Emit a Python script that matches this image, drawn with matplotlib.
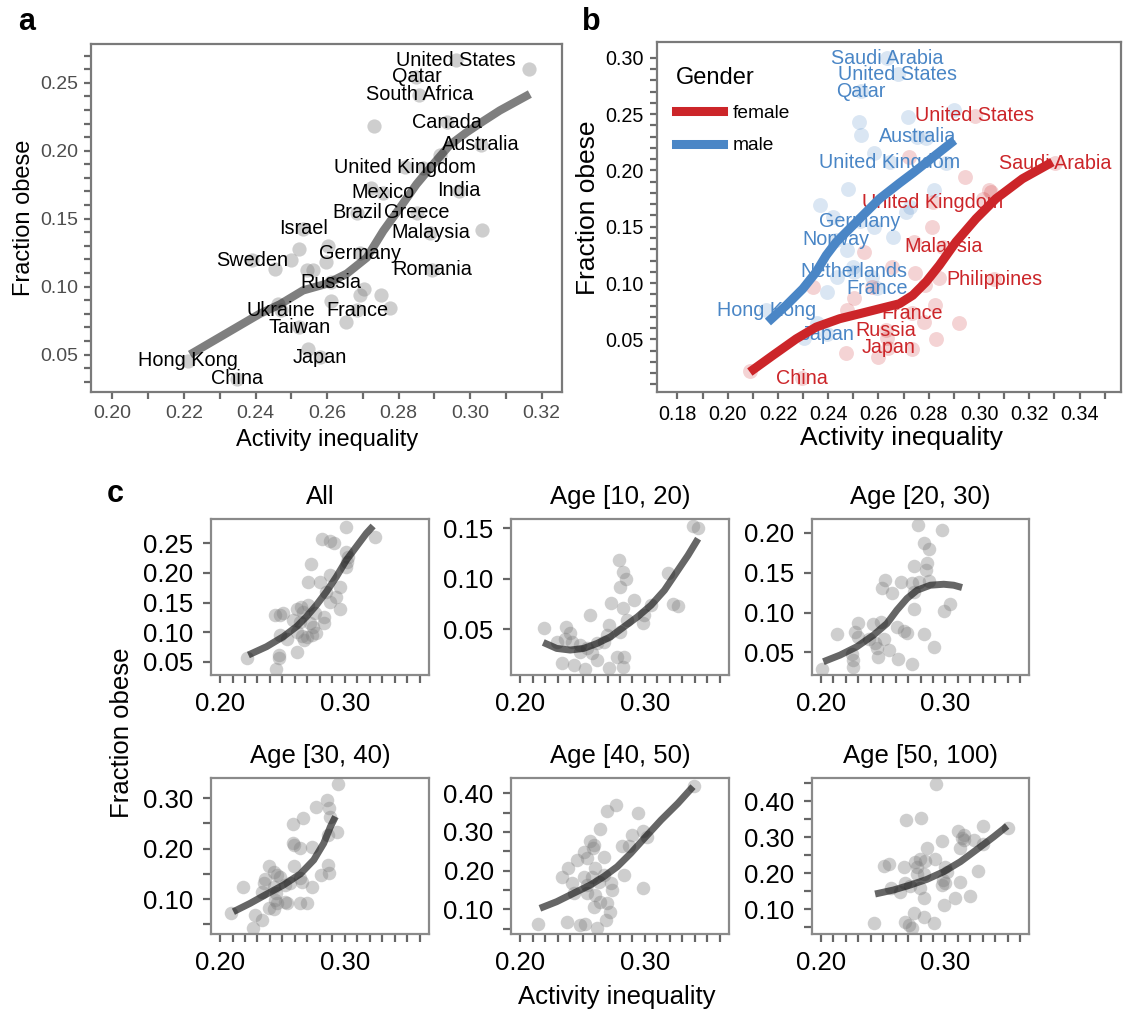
import matplotlib
matplotlib.use("Agg")
import matplotlib.pyplot as plt
from matplotlib.ticker import MultipleLocator, FixedLocator, FormatStrFormatter
from matplotlib.lines import Line2D

plt.rcParams['font.family'] = ['Liberation Sans', 'DejaVu Sans']

W, H = 1124, 1011

# ---------------- panel a: countries ----------------
a_names = ["United States", "Qatar", "South Africa", "Canada", "Australia",
           "United Kingdom", "Mexico", "India", "Brazil", "Greece", "Israel",
           "Malaysia", "Germany", "Sweden", "Romania", "Russia", "France",
           "Ukraine", "Taiwan", "Japan", "Hong Kong", "China"]
a_x = [0.296, 0.285, 0.2858, 0.2936, 0.303, 0.2819, 0.2756, 0.2968, 0.2684,
       0.2851, 0.2534, 0.2889, 0.2692, 0.239, 0.2893, 0.2612, 0.2684, 0.2471,
       0.2522, 0.2581, 0.221, 0.2349]
a_y = [0.2667, 0.2544, 0.241, 0.2208, 0.2043, 0.188, 0.1689, 0.1704, 0.1542,
       0.1542, 0.1427, 0.1397, 0.1247, 0.1193, 0.1124, 0.1033, 0.0824, 0.0824,
       0.0701, 0.048, 0.0456, 0.0321]
# countries without a label
a_other_x = [0.3164, 0.2731, 0.2915, 0.2867, 0.2724, 0.3033, 0.2521, 0.2604,
             0.2499, 0.2454, 0.2544, 0.2561, 0.2596, 0.2704, 0.2692, 0.2752,
             0.2777, 0.2612, 0.2462, 0.2652, 0.2547]
a_other_y = [0.2601, 0.2183, 0.1967, 0.1876, 0.1722, 0.1414, 0.1279, 0.1296,
             0.1193, 0.1132, 0.1124, 0.1124, 0.118, 0.0984, 0.0935, 0.0935,
             0.0844, 0.0893, 0.0869, 0.0743, 0.0542]
# smoothed trend
a_fit_x = [0.2217, 0.2412, 0.2468, 0.2533, 0.2599, 0.2655, 0.2711, 0.2757,
           0.2804, 0.285, 0.2897, 0.2943, 0.299, 0.3037, 0.3083, 0.3167]
a_fit_y = [0.05, 0.08, 0.0869, 0.0972, 0.1021, 0.1095, 0.1213, 0.1409,
           0.1581, 0.1753, 0.1901, 0.2042, 0.2135, 0.2218, 0.2296, 0.2417]

# ---------------- panel b: by gender ----------------
male_names = ["Saudi Arabia", "United States", "Qatar", "Australia",
              "United Kingdom", "Germany", "Norway", "Netherlands", "France",
              "Hong Kong", "Japan"]
male_x = [0.2634, 0.2677, 0.2531, 0.2754, 0.2645, 0.2526, 0.2432, 0.2501,
          0.2593, 0.2154, 0.2396]
male_y = [0.2994, 0.2855, 0.2704, 0.2299, 0.2071, 0.155, 0.1382, 0.110,
          0.0953, 0.076, 0.0544]
male_other_x = [0.290, 0.2716, 0.2521, 0.253, 0.2583, 0.2869, 0.2479, 0.2819,
                0.2369, 0.2726, 0.2711, 0.2419, 0.2583, 0.2659, 0.2476, 0.2497,
                0.2433, 0.2576, 0.2397, 0.2354, 0.2304, 0.279]
male_other_y = [0.2536, 0.2476, 0.2426, 0.2314, 0.2151, 0.2062, 0.1834, 0.1825,
                0.1692, 0.1678, 0.1633, 0.1589, 0.150, 0.1411, 0.1293, 0.1145,
                0.1056, 0.1056, 0.0923, 0.0642, 0.0509, 0.229]
male_fit_x = [0.216, 0.2233, 0.2299, 0.2352, 0.2392, 0.2432, 0.2485, 0.2538,
              0.2604, 0.2683, 0.2736, 0.2902]
male_fit_y = [0.0654, 0.0802, 0.0949, 0.1098, 0.1246, 0.1364, 0.1482, 0.1601,
              0.1748, 0.1886, 0.1975, 0.2267]

female_names = ["United States", "Saudi Arabia", "United Kingdom", "Malaysia",
                "Philippines", "France", "Russia", "Japan", "China"]
female_x = [0.2984, 0.3304, 0.2815, 0.2858, 0.3061, 0.2733, 0.2629, 0.2639,
            0.2295]
female_y = [0.2485, 0.2062, 0.1716, 0.1322, 0.1033, 0.0731, 0.0583, 0.0426,
            0.0154]
female_other_x = [0.272, 0.2945, 0.3041, 0.3014, 0.3047, 0.2813, 0.274, 0.2544,
                  0.2654, 0.2747, 0.284, 0.2787, 0.234, 0.2576, 0.2504, 0.2476,
                  0.2826, 0.2783, 0.2919, 0.2633, 0.2829, 0.2471, 0.2597,
                  0.2733, 0.209]
female_other_y = [0.2118, 0.194, 0.1823, 0.1748, 0.1811, 0.1497, 0.1367, 0.1278,
                  0.1145, 0.1086, 0.1041, 0.0982, 0.0967, 0.0967, 0.0864, 0.076,
                  0.0805, 0.0657, 0.0648, 0.0509, 0.05, 0.0376, 0.0346, 0.0411,
                  0.0219]
female_fit_x = [0.2088, 0.218, 0.2273, 0.2352, 0.2445, 0.2524, 0.2604, 0.2683,
                0.2736, 0.2789, 0.2842, 0.2908, 0.2988, 0.3067, 0.3173, 0.3292]
female_fit_y = [0.021, 0.0358, 0.0505, 0.0609, 0.0683, 0.0727, 0.0772, 0.0816,
                0.0891, 0.1009, 0.1157, 0.1364, 0.1571, 0.1748, 0.1926, 0.2074]

# ---------------- panel c: by age group ----------------
c_titles = ["All", "Age [10, 20)", "Age [20, 30)",
            "Age [30, 40)", "Age [40, 50)", "Age [50, 100)"]

all_x = [0.3013, 0.2821, 0.288, 0.2912, 0.324, 0.3013, 0.3027, 0.3019, 0.3008,
         0.2728, 0.288, 0.2707, 0.28, 0.296, 0.2848, 0.2933, 0.288, 0.2965,
         0.244, 0.2501, 0.248, 0.2613, 0.2648, 0.2707, 0.2667, 0.276, 0.2835,
         0.2581, 0.264, 0.272, 0.2832, 0.2747, 0.248, 0.2533, 0.2613, 0.2653,
         0.2693, 0.2736, 0.2768, 0.2672, 0.2213, 0.2475, 0.2475, 0.2613, 0.2445]
all_y = [0.2782, 0.2568, 0.2545, 0.25, 0.2613, 0.2359, 0.2275, 0.219, 0.2094,
         0.2145, 0.1965, 0.1852, 0.1852, 0.1768, 0.1683, 0.1599, 0.1514, 0.1385,
         0.1289, 0.1328, 0.1289, 0.139, 0.1418, 0.1458, 0.1345, 0.1328, 0.1261,
         0.1204, 0.1176, 0.1148, 0.1148, 0.1092, 0.0951, 0.0877, 0.1007, 0.0934,
         0.0923, 0.0951, 0.0979, 0.0866, 0.0556, 0.0613, 0.0556, 0.0669, 0.037]
all_fit_x = [0.2227, 0.2373, 0.2507, 0.2613, 0.2693, 0.2773, 0.2853, 0.2933,
             0.3013, 0.3093, 0.3173, 0.3227]
all_fit_y = [0.0613, 0.0754, 0.0923, 0.1092, 0.1261, 0.1458, 0.1683, 0.1937,
             0.2218, 0.2444, 0.2669, 0.2793]

age10_x = [0.3386, 0.3427, 0.2792, 0.2827, 0.2846, 0.28, 0.3189, 0.3229, 0.3265,
           0.2914, 0.273, 0.2827, 0.3049, 0.2995, 0.2981, 0.2562, 0.2711, 0.28,
           0.2859, 0.2192, 0.2368, 0.24, 0.2414, 0.2359, 0.2481, 0.2535, 0.2576,
           0.2616, 0.2697, 0.267, 0.2332, 0.2427, 0.2522, 0.2616, 0.2711, 0.2778,
           0.2832, 0.2827, 0.2476, 0.2297]
age10_y = [0.1516, 0.15, 0.1182, 0.1067, 0.1002, 0.092, 0.1057, 0.0749, 0.0729,
           0.0795, 0.0762, 0.0707, 0.0739, 0.0641, 0.0559, 0.0641, 0.0543, 0.0477,
           0.0592, 0.051, 0.052, 0.0461, 0.0379, 0.0402, 0.0346, 0.0313, 0.0264,
           0.0362, 0.0444, 0.0379, 0.0166, 0.0149, 0.0107, 0.0198, 0.0116, 0.0231,
           0.0231, 0.0133, 0.028, 0.0379]
age10_fit_x = [0.2184, 0.2292, 0.24, 0.2508, 0.2616, 0.2724, 0.2832, 0.2941,
               0.3049, 0.3157, 0.3265, 0.3346, 0.3427]
age10_fit_y = [0.0372, 0.0313, 0.0297, 0.0313, 0.0362, 0.0428, 0.0526, 0.0625,
               0.0739, 0.0887, 0.1084, 0.1231, 0.1395]

age20_x = [0.278, 0.2973, 0.2831, 0.2866, 0.2849, 0.2844, 0.2745, 0.2516, 0.2642,
           0.2731, 0.2785, 0.2866, 0.2489, 0.257, 0.275, 0.275, 0.2986, 0.3034,
           0.2301, 0.2422, 0.2481, 0.261, 0.2691, 0.2664, 0.2132, 0.2274, 0.2301,
           0.2382, 0.2435, 0.2449, 0.2503, 0.2543, 0.2825, 0.2906, 0.2462, 0.2616,
           0.2731, 0.2247, 0.2261, 0.2261, 0.2005]
age20_y = [0.2096, 0.2033, 0.1875, 0.1804, 0.1624, 0.1532, 0.1582, 0.1415, 0.1386,
           0.1373, 0.1386, 0.1398, 0.1315, 0.1248, 0.126, 0.1039, 0.1022, 0.1114,
           0.0872, 0.0855, 0.0884, 0.0822, 0.0746, 0.0771, 0.073, 0.0759, 0.0696,
           0.0663, 0.0613, 0.055, 0.0663, 0.0529, 0.073, 0.0562, 0.0445, 0.0412,
           0.0349, 0.0479, 0.0404, 0.032, 0.0287]
age20_fit_x = [0.2019, 0.2153, 0.2288, 0.2422, 0.253, 0.261, 0.2691, 0.2772,
               0.2879, 0.2987, 0.3067, 0.3134]
age20_fit_y = [0.0383, 0.0466, 0.0571, 0.0717, 0.0863, 0.1031, 0.1177, 0.1281,
               0.1344, 0.1356, 0.1344, 0.1315]

age30_x = [0.2946, 0.2858, 0.2871, 0.2772, 0.2885, 0.2938, 0.2863, 0.2584, 0.2662,
           0.2584, 0.259, 0.2737, 0.2643, 0.2595, 0.2863, 0.2871, 0.2812, 0.2737,
           0.2389, 0.2429, 0.2456, 0.2483, 0.2362, 0.2349, 0.2643, 0.2657, 0.2563,
           0.2523, 0.2429, 0.2448, 0.218, 0.2335, 0.2442, 0.2456, 0.2523, 0.2536,
           0.2638, 0.2697, 0.2389, 0.2429, 0.2282, 0.2335, 0.2088, 0.2268]
age30_y = [0.3285, 0.2967, 0.2801, 0.2821, 0.2636, 0.2338, 0.2272, 0.249, 0.2603,
           0.2119, 0.2073, 0.2026, 0.2007, 0.1656, 0.1675, 0.151, 0.1477, 0.1232,
           0.1662, 0.1543, 0.1477, 0.1444, 0.1391, 0.1311, 0.1411, 0.1344, 0.1311,
           0.1278, 0.1245, 0.1113, 0.1245, 0.1146, 0.098, 0.0914, 0.0947, 0.0927,
           0.0914, 0.0914, 0.0815, 0.0795, 0.0682, 0.0583, 0.0728, 0.0417]
age30_fit_x = [0.2107, 0.2241, 0.2375, 0.2509, 0.2643, 0.2751, 0.2831, 0.2885,
               0.2925]
age30_fit_y = [0.0748, 0.0914, 0.1099, 0.1278, 0.1497, 0.1775, 0.2106, 0.2437,
               0.2636]

age40_x = [0.3392, 0.2765, 0.2697, 0.2946, 0.2638, 0.2981, 0.29, 0.3016, 0.2873,
           0.2819, 0.2562, 0.2589, 0.2584, 0.2508, 0.2535, 0.267, 0.2454, 0.2386,
           0.2603, 0.2832, 0.2332, 0.2508, 0.2576, 0.267, 0.2414, 0.2427, 0.2535,
           0.263, 0.2724, 0.2738, 0.2981, 0.2535, 0.2603, 0.2643, 0.2697, 0.2589,
           0.2719, 0.2684, 0.2378, 0.2143, 0.2481, 0.2522, 0.2616]
age40_y = [0.419, 0.3698, 0.3543, 0.35, 0.3069, 0.3034, 0.2922, 0.2879, 0.2638,
           0.2638, 0.2776, 0.2664, 0.2578, 0.2491, 0.2319, 0.2362, 0.2276, 0.206,
           0.206, 0.1888, 0.1845, 0.1845, 0.1845, 0.1888, 0.1672, 0.1414, 0.1629,
           0.1716, 0.1672, 0.15, 0.1543, 0.1414, 0.1371, 0.1198, 0.1155, 0.1069,
           0.094, 0.0724, 0.0681, 0.0621, 0.0595, 0.0621, 0.0509]
age40_fit_x = [0.2157, 0.2292, 0.2427, 0.2562, 0.267, 0.2778, 0.2886, 0.2995,
               0.313, 0.3265, 0.3386]
age40_fit_y = [0.1026, 0.1198, 0.1414, 0.1629, 0.1845, 0.2103, 0.2448, 0.2836,
               0.331, 0.3741, 0.4172]

age50_x = [0.2925, 0.2685, 0.2806, 0.31, 0.3148, 0.3134, 0.3153, 0.3304, 0.3503,
           0.3228, 0.2973, 0.2852, 0.3121, 0.3304, 0.2508, 0.2543, 0.2669, 0.2758,
           0.2772, 0.2793, 0.2839, 0.2919, 0.2772, 0.2825, 0.3, 0.3013, 0.2981,
           0.3, 0.2973, 0.3261, 0.3121, 0.2562, 0.2637, 0.2677, 0.2718, 0.2798,
           0.2825, 0.2987, 0.3081, 0.3196, 0.2745, 0.2825, 0.2677, 0.2704, 0.2731,
           0.2911, 0.243]
age50_y = [0.4471, 0.3474, 0.3538, 0.3169, 0.3058, 0.2966, 0.292, 0.3307, 0.3261,
           0.292, 0.2901, 0.2689, 0.2689, 0.2809, 0.22, 0.2255, 0.2181, 0.2319,
           0.2181, 0.2384, 0.2347, 0.2384, 0.1978, 0.1978, 0.2181, 0.2042, 0.1812,
           0.1738, 0.1673, 0.207, 0.1766, 0.1581, 0.1488, 0.1719, 0.1645, 0.1581,
           0.1304, 0.1119, 0.1304, 0.1369, 0.0907, 0.0796, 0.0657, 0.0565, 0.0473,
           0.0611, 0.0611]
age50_fit_x = [0.2435, 0.2583, 0.2718, 0.2852, 0.2987, 0.3121, 0.3255, 0.339,
               0.3497]
age50_fit_y = [0.1424, 0.1535, 0.1673, 0.183, 0.2042, 0.2319, 0.2661, 0.3012,
               0.3307]

RED = '#CC2529'
BLUE = '#4A86C6'


def box(l, t, r, b):
    return [l / W, 1 - b / H, (r - l) / W, (b - t) / H]


def style(ax, spine='#7a7a7a', tick='#6a6a6a', length=5, pad=4.5):
    for s in ax.spines.values():
        s.set_color(spine)
        s.set_linewidth(1.6)
    ax.tick_params(which='both', direction='out', length=length, width=1.6,
                   color=tick, pad=pad)


fig = plt.figure(figsize=(W / 100, H / 100), dpi=100)

# ---------------- a ----------------
ax = fig.add_axes(box(91, 44.3, 561.7, 392.3))
ax.scatter(a_other_x + a_x, a_other_y + a_y, s=105, color='#808080',
           alpha=0.38, linewidths=0, zorder=2)
ax.plot(a_fit_x, a_fit_y, color='black', alpha=0.5, lw=6,
        solid_capstyle='butt', solid_joinstyle='round', zorder=3)
for name, x, y in zip(a_names, a_x, a_y):
    ax.text(x, y, name, fontsize=14.3, ha='center', va='center', zorder=4)
ax.set_xlim(0.194, 0.3256)
ax.set_ylim(0.0222, 0.2783)
ax.xaxis.set_major_locator(MultipleLocator(0.02))
ax.xaxis.set_minor_locator(MultipleLocator(0.01))
ax.yaxis.set_major_locator(MultipleLocator(0.05))
ax.yaxis.set_minor_locator(MultipleLocator(0.01))
ax.xaxis.set_major_formatter(FormatStrFormatter('%.2f'))
ax.yaxis.set_major_formatter(FormatStrFormatter('%.2f'))
style(ax)
ax.tick_params(labelsize=14, labelcolor='#4d4d4d')
fig.text(326.8 / W, 1 - 440 / H, 'Activity inequality', fontsize=17,
         ha='center', va='center')
fig.text(24 / W, 1 - 218 / H, 'Fraction obese', fontsize=17,
         rotation=90, ha='center', va='center')
fig.text(18 / W, 1 - 30 / H, 'a', fontsize=22, fontweight='bold',
         va='baseline', ha='left')

# ---------------- b ----------------
ax = fig.add_axes(box(657.1, 42.3, 1121, 392.3))
ax.scatter(male_other_x + male_x, male_other_y + male_y, s=115, color=BLUE,
           alpha=0.2, linewidths=0, zorder=2)
ax.scatter(female_other_x + female_x, female_other_y + female_y, s=115,
           color=RED, alpha=0.2, linewidths=0, zorder=2)
for name, x, y in zip(male_names, male_x, male_y):
    ax.text(x, y, name, fontsize=14.2, color=BLUE, ha='center', va='center',
            zorder=3)
for name, x, y in zip(female_names, female_x, female_y):
    ax.text(x, y, name, fontsize=14.2, color=RED, ha='center', va='center',
            zorder=3)
ax.plot(female_fit_x, female_fit_y, color=RED, lw=6.5, solid_capstyle='butt',
        solid_joinstyle='round', zorder=4)
ax.plot(male_fit_x, male_fit_y, color=BLUE, lw=6.5, solid_capstyle='butt',
        solid_joinstyle='round', zorder=4)
ax.set_xlim(0.1719, 0.3565)
ax.set_ylim(0.003, 0.3137)
ax.xaxis.set_major_locator(MultipleLocator(0.02))
ax.xaxis.set_minor_locator(MultipleLocator(0.01))
ax.yaxis.set_major_locator(FixedLocator([0.05, 0.10, 0.15, 0.20, 0.25, 0.30]))
ax.yaxis.set_minor_locator(FixedLocator([i / 100 for i in range(1, 31)]))
ax.xaxis.set_major_formatter(FormatStrFormatter('%.2f'))
ax.yaxis.set_major_formatter(FormatStrFormatter('%.2f'))
style(ax)
ax.tick_params(labelsize=14.2, labelcolor='black')
handles = [Line2D([], [], color=RED, lw=6.5), Line2D([], [], color=BLUE, lw=6.5)]
leg = ax.legend(handles, ['female', 'male'], title='Gender', loc='upper left',
                bbox_to_anchor=(0.04, 0.93), frameon=False, fontsize=13.8,
                title_fontsize=17, handlelength=2.45, handletextpad=0.55,
                labelspacing=0.8, borderpad=0, borderaxespad=0)
leg._legend_box.align = 'left'
fig.text(901.7 / W, 1 - 437.5 / H, 'Activity inequality', fontsize=19,
         ha='center', va='center')
fig.text(588 / W, 1 - 208 / H, 'Fraction obese', fontsize=19,
         rotation=90, ha='center', va='center')
fig.text(582 / W, 1 - 30 / H, 'b', fontsize=22, fontweight='bold',
         va='baseline', ha='left')

# ---------------- c ----------------
c_x = [all_x, age10_x, age20_x, age30_x, age40_x, age50_x]
c_y = [all_y, age10_y, age20_y, age30_y, age40_y, age50_y]
c_fx = [all_fit_x, age10_fit_x, age20_fit_x, age30_fit_x, age40_fit_x,
        age50_fit_x]
c_fy = [all_fit_y, age10_fit_y, age20_fit_y, age30_fit_y, age40_fit_y,
        age50_fit_y]
c_ylim = [(0.0275, 0.2906), (0.0051, 0.1586), (0.0216, 0.2172),
          (0.0305, 0.3397), (0.0362, 0.4388), (0.0316, 0.4629)]
c_major = [[0.05, 0.10, 0.15, 0.20, 0.25], [0.05, 0.10, 0.15],
           [0.05, 0.10, 0.15, 0.20], [0.10, 0.20, 0.30],
           [0.10, 0.20, 0.30, 0.40], [0.10, 0.20, 0.30, 0.40]]
c_minor = [[], [], [], [0.05, 0.15, 0.25], [0.05, 0.15, 0.25, 0.35],
           [0.05, 0.15, 0.25, 0.35, 0.45]]
cols = [(210.7, 429), (511, 729), (811.7, 1029.3)]
rows = [(519.3, 675), (778.3, 934)]

for i in range(6):
    l, r = cols[i % 3]
    t, b = rows[i // 3]
    ax = fig.add_axes(box(l, t, r, b))
    ax.scatter(c_x[i], c_y[i], s=95, color='#808080', alpha=0.38,
               linewidths=0, zorder=2)
    ax.plot(c_fx[i], c_fy[i], color='black', alpha=0.6, lw=5,
            solid_capstyle='butt', solid_joinstyle='round', zorder=3)
    ax.set_xlim(0.1925, 0.3675)
    ax.set_ylim(*c_ylim[i])
    ax.xaxis.set_major_locator(FixedLocator([0.20, 0.30]))
    ax.xaxis.set_minor_locator(FixedLocator([0.20 + k / 100 for k in range(17)]))
    ax.yaxis.set_major_locator(FixedLocator(c_major[i]))
    ax.yaxis.set_minor_locator(FixedLocator(c_minor[i]))
    ax.xaxis.set_major_formatter(FormatStrFormatter('%.2f'))
    ax.yaxis.set_major_formatter(FormatStrFormatter('%.2f'))
    style(ax, spine='#8a8a8a', tick='#666666', length=6, pad=6.5)
    ax.tick_params(labelsize=18.5, labelcolor='black')
    ax.set_title(c_titles[i], fontsize=18.5, pad=11)

fig.text(122 / W, 1 - 733 / H, 'Fraction obese', fontsize=18.5,
         rotation=90, ha='center', va='center')
fig.text(617 / W, 1 - 997 / H, 'Activity inequality', fontsize=18.5,
         ha='center', va='center')
fig.text(107 / W, 1 - 502 / H, 'c', fontsize=22, fontweight='bold',
         va='baseline', ha='left')

fig.savefig('out.png', dpi=100)
